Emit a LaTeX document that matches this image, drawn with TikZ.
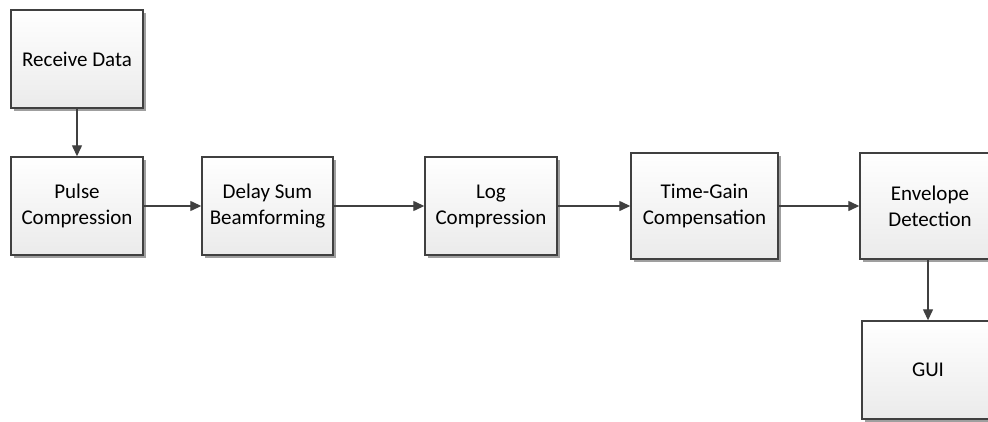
\documentclass[tikz,border=0pt]{standalone}
\usepackage{fontspec}
\setmainfont{Carlito}
\usetikzlibrary{arrows.meta,shadows}
\definecolor{edge}{HTML}{404040}
\tikzset{
  block/.style={draw=edge, line width=1.4pt, top color=white, bottom color=gray!16,
    drop shadow={shadow xshift=2.5pt, shadow yshift=-2.5pt, fill=gray!75, opacity=1},
    minimum width=#1, align=center, font=\fontsize{21}{26}\selectfont, inner sep=0pt},
  block/.default=132pt,
  flow/.style={draw=edge, line width=1.3pt, -{Triangle[length=11pt,width=10pt]}}
}
\begin{document}
\begin{tikzpicture}[x=1pt,y=-1pt]
\useasboundingbox (0,0) rectangle (988,421);
\node[block, minimum height=98pt] (rx) at (77,59) {Receive Data};
\node[block, minimum height=98pt] (pc) at (77,206) {Pulse\\Compression};
\node[block=131pt, minimum height=98pt] (ds) at (267.5,206) {Delay Sum\\Beamforming};
\node[block, minimum height=98pt] (lc) at (491,206) {Log\\Compression};
\node[block=147pt, minimum height=106pt] (tg) at (704.5,206) {Time-Gain\\Compensation};
\node[block=140pt, minimum height=106pt] (ed) at (930,206) {Envelope\\Detection};
\node[block, minimum height=98pt] (gui) at (928,370) {GUI};
\draw[flow] (rx) -- (pc);
\draw[flow] (pc) -- (ds);
\draw[flow] (ds) -- (lc);
\draw[flow] (lc) -- (tg);
\draw[flow] (tg) -- (ed);
\draw[flow] (ed.south -| gui.north) -- (gui.north);
\end{tikzpicture}
\end{document}
